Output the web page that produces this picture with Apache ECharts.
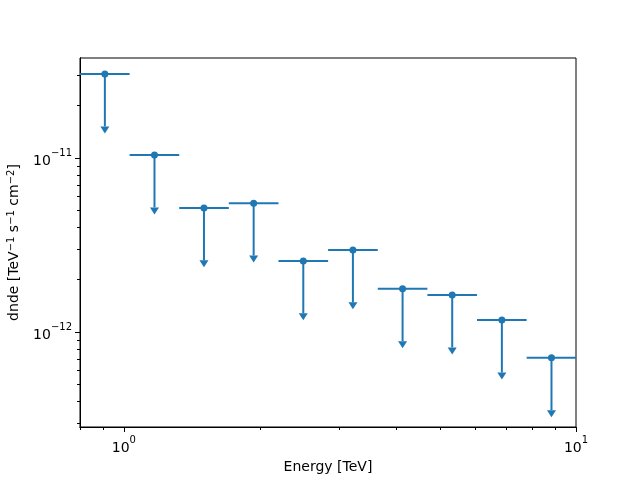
<!DOCTYPE html>
<html><head><meta charset="utf-8">
<script src="https://cdn.jsdelivr.net/npm/echarts@6/dist/echarts.min.js"></script>
<style>html,body{margin:0;padding:0;background:#fff}#c{width:640px;height:480px}</style>
</head><body><div id="c"></div>
<script>
// Energy bins [TeV]
const energyLo = [0.800, 1.030, 1.326, 1.707, 2.198, 2.830, 3.644, 4.692, 6.041, 7.778];
const energyHi = [1.030, 1.326, 1.707, 2.198, 2.830, 3.644, 4.692, 6.041, 7.778, 10.00];
const energy   = [0.908, 1.169, 1.504, 1.937, 2.494, 3.211, 4.135, 5.324, 6.856, 8.826];
// Upper limits on dnde [TeV^-1 s^-1 cm^-2]
const dndeUL = [3.04e-11, 1.04e-11, 5.16e-12, 5.50e-12, 2.56e-12, 2.96e-12, 1.77e-12, 1.63e-12, 1.17e-12, 7.1e-13];
// Axis ranges and ticks
const xRange = [0.8, 10];
const yRange = [2.84e-13, 3.76e-11];
const xMajorTicks = [1, 10];
const xMinorTicks = [0.8, 0.9, 2, 3, 4, 5, 6, 7, 8, 9];
const yMajorTicks = [1e-12, 1e-11];
const yMinorTicks = [3e-13, 4e-13, 5e-13, 6e-13, 7e-13, 8e-13, 9e-13,
  2e-12, 3e-12, 4e-12, 5e-12, 6e-12, 7e-12, 8e-12, 9e-12, 2e-11, 3e-11];

const L = Math.log10;
const color = '#1f77b4';
const font = 'DejaVu Sans';

const data = energy.map((e, i) => [L(energyLo[i]), L(energyHi[i]), L(e), L(dndeUL[i]), L(dndeUL[i] / 2)]);

const supFmt = v => '{b|10}{sup|' + String(Math.round(v)).replace('-', '\u2212') + '}';
const labelRich = {
  b: {fontFamily: font, fontSize: 14, color: '#000', lineHeight: 20, verticalAlign: 'bottom'},
  sup: {fontFamily: font, fontSize: 10, color: '#000', lineHeight: 20, verticalAlign: 'top', padding: [0, 0, 6, 0]}
};

function axisPair(kind, range, major, minor, extra) {
  const base = {
    type: 'value', min: L(range[0]), max: L(range[1]),
    splitLine: {show: false},
    axisLine: {show: true, onZero: false, lineStyle: {color: '#000', width: 1}},
  };
  const a = Object.assign({}, base, {
    axisTick: {show: true, length: 5, lineStyle: {color: '#000', width: 1}, customValues: major.map(L)},
    axisLabel: {show: true, margin: 8, customValues: major.map(L), formatter: supFmt, rich: labelRich, color: '#000'}
  }, extra);
  const b = Object.assign({}, base, {
    axisTick: {show: true, length: 3, lineStyle: {color: '#000', width: 1}, customValues: minor.map(L)},
    axisLabel: {show: false}
  });
  b.position = kind === 'x' ? 'bottom' : 'left';
  a.position = b.position;
  return [a, b];
}

const chart = echarts.init(document.getElementById('c'), null, {renderer: 'canvas'});
chart.setOption({
  animation: false,
  backgroundColor: '#fff',
  grid: {left: 80, right: 64, top: 58, bottom: 53, show: true, borderColor: '#000', borderWidth: 1,
         backgroundColor: 'transparent', containLabel: false, outerBoundsMode: 'none'},
  xAxis: axisPair('x', xRange, xMajorTicks, xMinorTicks, {
    name: 'Energy [TeV]', nameLocation: 'middle', nameGap: 33,
    nameTextStyle: {fontFamily: font, fontSize: 14, color: '#000'}
  }),
  yAxis: axisPair('y', yRange, yMajorTicks, yMinorTicks, {
    name: 'dnde [TeV{sup|\u22121} s{sup|\u22121} cm{sup|\u22122}]', nameLocation: 'middle', nameGap: 58, nameRotate: 90,
    nameTextStyle: {fontFamily: font, fontSize: 14, color: '#000', rich: {
      sup: {fontFamily: font, fontSize: 10, color: '#000', verticalAlign: 'top', padding: [0, 0, 6, 0]}
    }}
  }),
  series: [{
    type: 'custom',
    xAxisIndex: 0, yAxisIndex: 0,
    data: data,
    clip: false,
    renderItem: (params, api) => {
      const lo = api.coord([api.value(0), api.value(3)]);
      const hi = api.coord([api.value(1), api.value(3)]);
      const c = api.coord([api.value(2), api.value(3)]);
      const b = api.coord([api.value(2), api.value(4)]);
      const ls = {stroke: color, lineWidth: 2};
      return {type: 'group', children: [
        {type: 'line', shape: {x1: lo[0], y1: lo[1], x2: hi[0], y2: hi[1]}, style: ls},
        {type: 'line', shape: {x1: c[0], y1: c[1], x2: b[0], y2: b[1]}, style: ls},
        {type: 'polygon', shape: {points: [[b[0] - 4.5, b[1]], [b[0] + 4.5, b[1]], [b[0], b[1] + 7]]}, style: {fill: color}},
        {type: 'circle', shape: {cx: c[0], cy: c[1], r: 3.5}, style: {fill: color}}
      ]};
    }
  }]
});
</script></body></html>
